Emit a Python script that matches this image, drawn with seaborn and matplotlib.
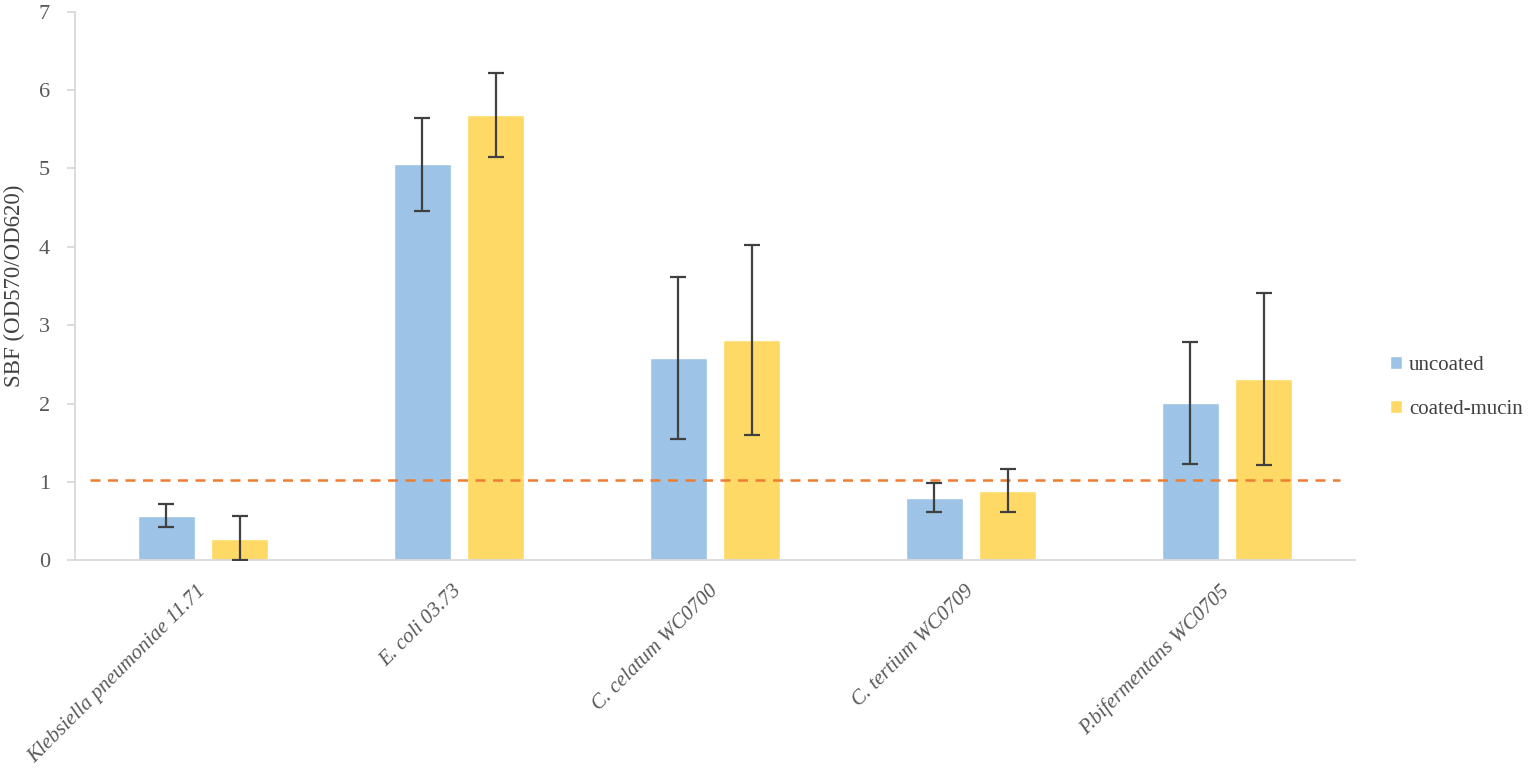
import numpy as np
import pandas as pd
import matplotlib
matplotlib.use('Agg')
import matplotlib.pyplot as plt
import seaborn as sns

# values
strains = ['Klebsiella pneumoniae 11.71', 'E. coli 03.73', 'C. celatum WC0700',
           'C. tertium WC0709', 'P.bifermentans WC0705']
groups = ['uncoated', 'coated-mucin']
uncoated = [0.57, 5.05, 2.58, 0.80, 2.01]
uncoated_err = [0.145, 0.59, 1.03, 0.185, 0.78]
coated = [0.27, 5.68, 2.81, 0.89, 2.31]
coated_err = [0.29, 0.54, 1.21, 0.27, 1.10]
threshold = 1.02

colors = ['#9DC3E6', '#FFD966']

df = pd.DataFrame({
    'strain': strains * 2,
    'group': [groups[0]] * len(strains) + [groups[1]] * len(strains),
    'sbf': uncoated + coated,
})

sns.set_style('white')
plt.rcParams['font.family'] = ['Liberation Serif', 'DejaVu Serif']

fig = plt.figure(figsize=(15.36, 7.75), dpi=100)
ax = fig.add_axes([0.0488, 0.277, 0.8333, 0.708])

sns.barplot(data=df, x='strain', y='sbf', hue='group', order=strains,
            hue_order=groups, palette=colors, width=0.572, gap=0.22,
            saturation=1, errorbar=None, ax=ax, legend=True)

# error bars, positioned from the drawn bars
errs = uncoated_err + coated_err
vals = uncoated + coated
bars = [p for p in ax.patches if p.get_height() > 0][:len(vals)]
for p, v, e in zip(bars, vals, errs):
    xc = p.get_x() + p.get_width() / 2
    lo = min(e, v)
    ax.errorbar(xc, v, yerr=[[lo], [e]], fmt='none', ecolor='#404040',
                elinewidth=1.6, capsize=6, capthick=1.6, zorder=5)

ax.plot([-0.44, 4.44], [threshold, threshold], ls=(0, (4, 3)), color='#ED7D31',
        lw=1.8, zorder=4)

ax.set_xlim(-0.5, 4.5)
ax.set_ylim(0, 7)
ax.set_yticks(range(0, 8))
ax.set_xlabel('')
ax.set_ylabel('SBF (OD570/OD620)', fontsize=16.5, color='#404040', labelpad=10)

for s in ['top', 'right']:
    ax.spines[s].set_visible(False)
for s in ['left', 'bottom']:
    ax.spines[s].set_color('#D9D9D9')
    ax.spines[s].set_linewidth(1.3)

ax.set_xticks(np.arange(-0.5, 5.0, 1.0), minor=True)
ax.tick_params(axis='x', which='major', length=0, pad=20)
ax.tick_params(axis='x', which='minor', length=6, color='#D9D9D9', width=1.3)
ax.tick_params(axis='y', length=6, color='#D9D9D9', width=1.3, labelsize=16,
               labelcolor='#595959', left=True, pad=12)
for lab in ax.get_xticklabels():
    lab.set_rotation(45)
    lab.set_ha('right')
    lab.set_va('center')
    lab.set_rotation_mode('anchor')
    lab.set_fontstyle('italic')
    lab.set_fontsize(15)
    lab.set_color('#595959')

leg = ax.legend(loc='center left', bbox_to_anchor=(0.893, 0.5), bbox_transform=fig.transFigure,
                frameon=False, fontsize=15, handlelength=0.55, handleheight=0.55,
                handletextpad=0.35, labelspacing=1.2)
for t in leg.get_texts():
    t.set_color('#404040')

fig.savefig('out.png', dpi=100, facecolor='white')
